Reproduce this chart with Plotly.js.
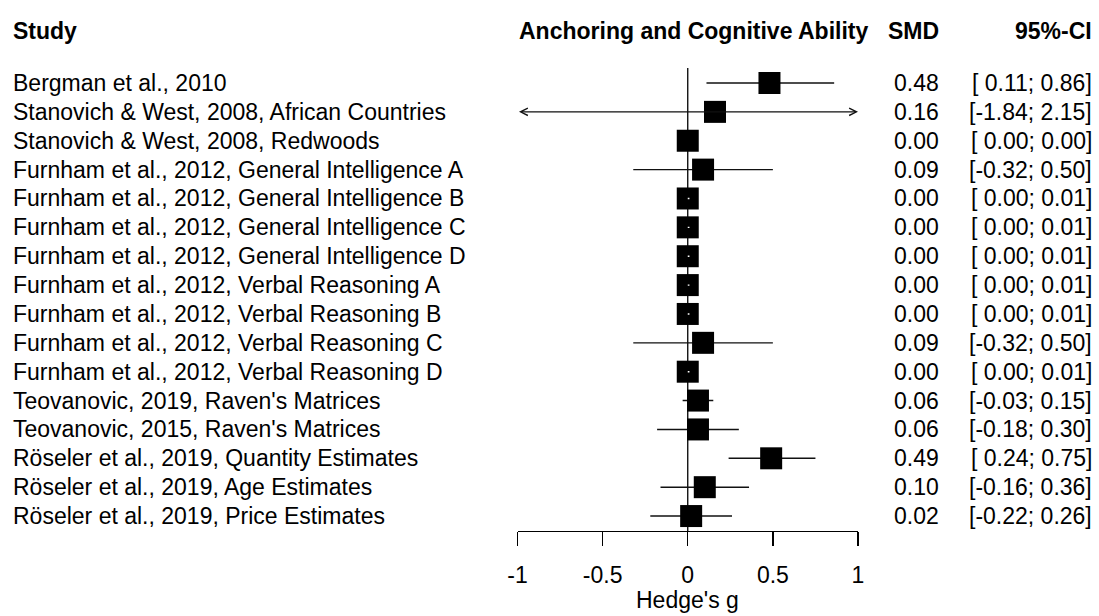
<!DOCTYPE html>
<html>
<head>
<meta charset="utf-8">
<script src="https://cdn.plot.ly/plotly-3.0.1.min.js"></script>
<style>
  html, body { margin: 0; padding: 0; background: #ffffff; }
  #chart { width: 1099px; height: 616px; }
</style>
</head>
<body>
<div id="chart"></div>
<script>
// Forest plot: anchoring effect vs. cognitive ability (standardised mean differences)
const studies = [
  "Bergman et al., 2010",
  "Stanovich & West, 2008, African Countries",
  "Stanovich & West, 2008, Redwoods",
  "Furnham et al., 2012, General Intelligence A",
  "Furnham et al., 2012, General Intelligence B",
  "Furnham et al., 2012, General Intelligence C",
  "Furnham et al., 2012, General Intelligence D",
  "Furnham et al., 2012, Verbal Reasoning A",
  "Furnham et al., 2012, Verbal Reasoning B",
  "Furnham et al., 2012, Verbal Reasoning C",
  "Furnham et al., 2012, Verbal Reasoning D",
  "Teovanovic, 2019, Raven's Matrices",
  "Teovanovic, 2015, Raven's Matrices",
  "Röseler et al., 2019, Quantity Estimates",
  "Röseler et al., 2019, Age Estimates",
  "Röseler et al., 2019, Price Estimates"
];
const smd     = [0.48, 0.16, 0.00, 0.09, 0.00, 0.00, 0.00, 0.00, 0.00, 0.09, 0.00, 0.06, 0.06, 0.49, 0.10, 0.02];
const ciLower = [0.11, -1.84, 0.00, -0.32, 0.00, 0.00, 0.00, 0.00, 0.00, -0.32, 0.00, -0.03, -0.18, 0.24, -0.16, -0.22];
const ciUpper = [0.86, 2.15, 0.00, 0.50, 0.01, 0.01, 0.01, 0.01, 0.01, 0.50, 0.01, 0.15, 0.30, 0.75, 0.36, 0.26];
const xTickVals = [-1, -0.5, 0, 0.5, 1];
const xTickText = ["-1", "-0.5", "0", "0.5", "1"];

// ---- page geometry (pixels) ----
const W = 1099, H = 616;
const px = x => x / W;
const py = y => 1 - y / H;
const plotLeft = 517.5, plotRight = 858;   // x = -1 .. 1
const rowTop = 83, rowStep = 28.87;        // centre of first row, row spacing
const plotTopPx = 68, axisPx = 531;        // top of reference line, x-axis line
const xMin = -1, xMax = 1;
const squareSize = 22;

const FONT = '"Liberation Sans", Arial, Helvetica, sans-serif';
const fs = 23;

const rows = studies.map((_, i) => i + 1);
const yTop = 1 - (rowTop - plotTopPx) / rowStep;
const yBottom = 1 + (axisPx - rowTop) / rowStep;

// confidence interval segments (clipped to the axis range)
const ciX = [], ciY = [], inX = [], inY = [];
const halfSq = (squareSize / 2) / ((plotRight - plotLeft) / (xMax - xMin));
const arrowRows = [];
rows.forEach((r, i) => {
  const lo = ciLower[i], hi = ciUpper[i];
  if (lo < xMin || hi > xMax) { arrowRows.push(i); return; }
  if (lo >= smd[i] - halfSq && hi <= smd[i] + halfSq) {
    inX.push(lo, hi, null); inY.push(r, r, null);
  } else {
    ciX.push(lo, hi, null); ciY.push(r, r, null);
  }
});

const traces = [
  { type: "scatter", mode: "lines", x: ciX, y: ciY, hoverinfo: "skip",
    line: { color: "#111111", width: 1.4 }, showlegend: false, cliponaxis: false },
  { type: "scatter", mode: "markers", x: smd, y: rows, hoverinfo: "skip",
    marker: { symbol: "square", size: squareSize, color: "#000000", line: { width: 0 } },
    showlegend: false, cliponaxis: false },
  { type: "scatter", mode: "lines", x: inX, y: inY, hoverinfo: "skip",
    line: { color: "#ffffff", width: 1.4 }, showlegend: false, cliponaxis: false }
];

const fmt = v => (v < 0 ? "" : " ") + v.toFixed(2);
const annotations = [];
const txt = (text, x, y, xanchor, opts = {}) => Object.assign({
  text, x, y, xref: "paper", yref: "paper", xanchor, yanchor: "middle",
  showarrow: false, font: { family: FONT, size: fs, color: "#000000" }
}, opts);

// column positions
const colStudy = px(10.5), colTitle = px(870), colSmd = px(941), colCi = px(1094);

// column headers
const headY = py(31);
const bold = { family: FONT, size: fs, color: "#000000", weight: "bold" };
annotations.push(txt("Study", colStudy, headY, "left", { font: bold }));
annotations.push(txt("Anchoring and Cognitive Ability", colTitle, headY, "right", { font: bold }));
annotations.push(txt("SMD", colSmd, headY, "right", { font: bold }));
annotations.push(txt("95%-CI", colCi, headY, "right", { font: bold }));

// study rows
rows.forEach((r, i) => {
  annotations.push(txt(studies[i], colStudy, r, "left", { yref: "y" }));
  annotations.push(txt(smd[i].toFixed(2), colSmd, r, "right", { yref: "y" }));
  annotations.push(txt("[" + fmt(ciLower[i]) + ";" + fmt(ciUpper[i]) + "]", colCi, r, "right", { yref: "y" }));
});

// intervals running past the axis limits get arrow heads at both clipped ends
arrowRows.forEach(i => {
  annotations.push({
    x: Math.min(ciUpper[i], xMax), y: rows[i], xref: "x", yref: "y",
    ax: Math.max(ciLower[i], xMin), ay: rows[i], axref: "x", ayref: "y",
    text: "", showarrow: true, arrowside: "end+start",
    arrowhead: 5, startarrowhead: 5, arrowsize: 1.1, startarrowsize: 1.1,
    arrowwidth: 1.3, arrowcolor: "#111111", standoff: 0, startstandoff: 0
  });
});

// x-axis title
annotations.push(txt("Hedge's g", 0, py(600), "center", { xref: "x" }));

const layout = {
  width: W, height: H, autosize: false,
  margin: { l: 0, r: 0, t: 0, b: 0, pad: 0 },
  paper_bgcolor: "#ffffff", plot_bgcolor: "#ffffff",
  showlegend: false,
  font: { family: FONT, size: fs, color: "#000000" },
  xaxis: {
    domain: [px(plotLeft), px(plotRight)], range: [xMin, xMax],
    showgrid: false, zeroline: false, fixedrange: true,
    showline: true, linecolor: "#000000", linewidth: 1.3,
    ticks: "outside", ticklen: 14, tickwidth: 1.3, tickcolor: "#000000",
    tickvals: xTickVals, ticktext: xTickText, ticklabelstandoff: 9,
    tickfont: { family: FONT, size: fs, color: "#000000" }
  },
  yaxis: {
    domain: [py(axisPx), py(plotTopPx)], range: [yBottom, yTop],
    visible: false, showgrid: false, zeroline: false, fixedrange: true
  },
  shapes: [{
    type: "line", xref: "x", yref: "paper", x0: 0, x1: 0,
    y0: py(axisPx), y1: py(plotTopPx), layer: "below",
    line: { color: "#000000", width: 1.3 }
  }],
  annotations
};

Plotly.newPlot("chart", traces, layout, { displayModeBar: false, staticPlot: true });
</script>
</body>
</html>
